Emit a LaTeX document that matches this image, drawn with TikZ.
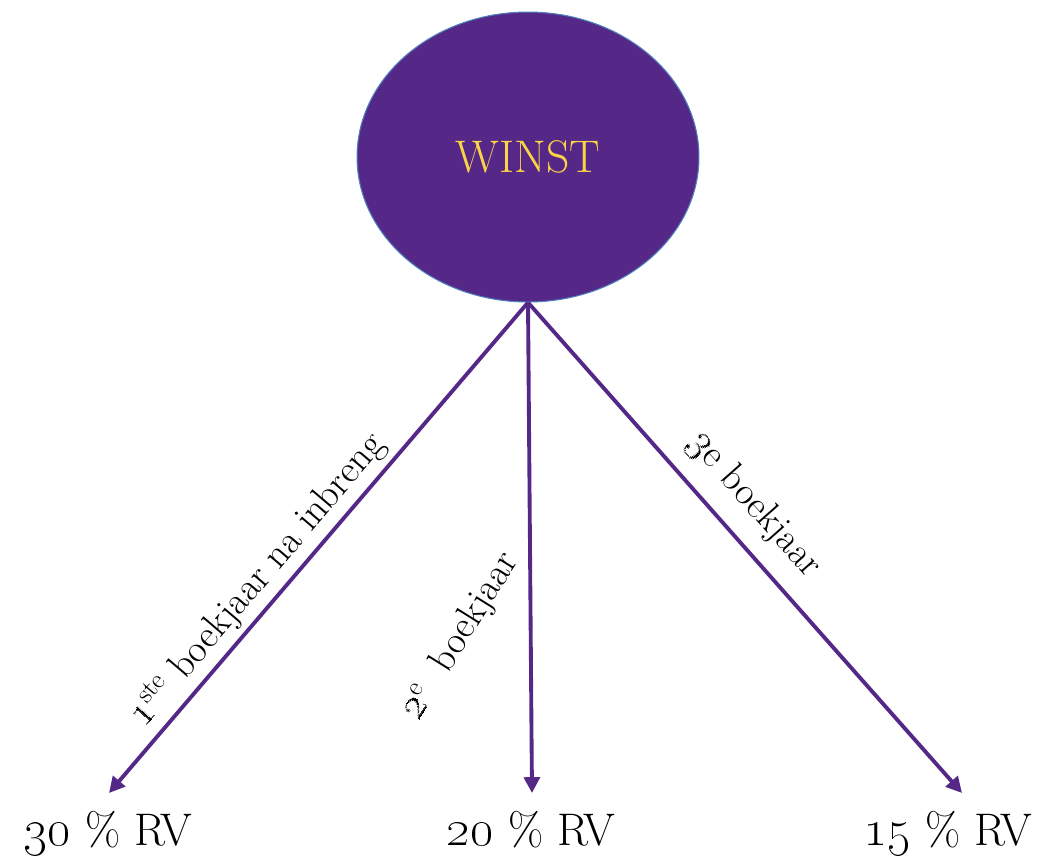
\documentclass[tikz,border=0pt]{standalone}
\usetikzlibrary{arrows.meta,shapes.geometric}
\definecolor{winstpurple}{RGB}{85,40,136}
\definecolor{winstgold}{RGB}{252,210,70}
\definecolor{rimblue}{RGB}{79,129,189}
\newcommand{\oldnum}[1]{\scalebox{1.2}{\oldstylenums{#1}}}
\tikzset{
  flow/.style={line width=2.2pt, draw=winstpurple, -{Triangle[length=9pt,width=9pt]}},
  yearlabel/.style={font=\fontsize{22}{26}\selectfont, inner sep=3pt},
  share/.style={font=\fontsize{26}{30}\selectfont, anchor=base, inner sep=0pt}
}
\begin{document}
\begin{tikzpicture}[x=0.02cm,y=-0.02cm]
    \useasboundingbox (0,0) rectangle (1041,859);
    %Winst
    \node[ellipse, fill=winstpurple, draw=rimblue, line width=0.6pt,
      minimum width=6.84cm, minimum height=5.8cm, inner sep=0pt,
      text=winstgold, font=\fontsize{26}{30}\selectfont] (Winst) at (528,157) {WINST};

    %Shares
    \coordinate (TipA) at (109,793);
    \coordinate (TipB) at (532,793);
    \coordinate (TipC) at (962,793);
    \node[share] (RVa) at (108,845) {\oldnum{30} \% RV};
    \node[share] (RVb) at (531,845) {\oldnum{20} \% RV};
    \node[share] (RVc) at (948,845) {\oldnum{15} \% RV};

    %Arrows
    \draw[flow] (Winst.south) -- (TipA)
    node [pos=0.6, sloped, above, yearlabel] {\oldnum{1}\textsuperscript{ste} boekjaar na inbreng};
    \draw[flow] (Winst.south) -- (TipB)
    node [pos=0.68, xshift=-1.4cm, rotate=58, yearlabel] {\oldnum{2}\textsuperscript{e}~ boekjaar};
    \draw[flow] (Winst.south) -- (TipC)
    node [pos=0.46, sloped, above=6pt, yearlabel] {\oldnum{3}e boekjaar};
  \end{tikzpicture}
\end{document}
